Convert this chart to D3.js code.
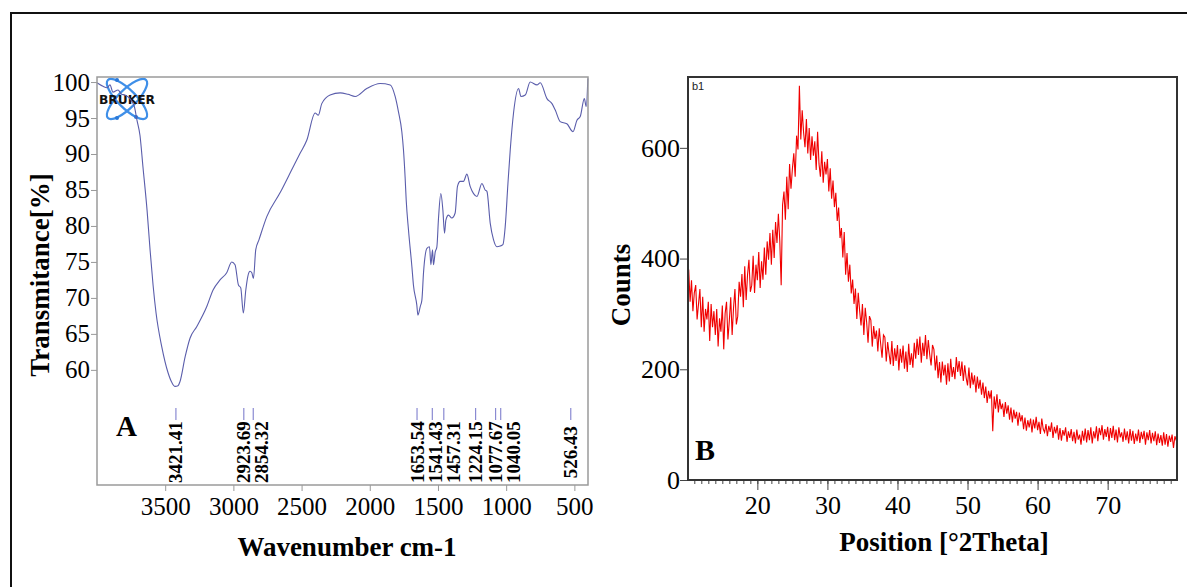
<!DOCTYPE html>
<html><head><meta charset="utf-8">
<script src="https://cdn.jsdelivr.net/npm/d3@7"></script>
<style>
html,body{margin:0;padding:0;background:#fff;}
svg{display:block;}
</style></head><body>
<svg id="chart" width="1187" height="587" font-family="Liberation Serif, Times New Roman, serif"></svg>
<script>
// ---------- Panel A: FTIR ----------
const irWavenumber = [4000,3956,3927,3905,3883,3846,3820,3795,3751,3725,3707,3685,3663,3633,3611,3589,3567,3525,3479,3450,3428,3406,3391,3354,3318,3269,3195,3149,3098,3049,3012,2988,2963,2946,2927,2909,2894,2878,2865,2853,2836,2812,2755,2658,2562,2511,2462,2401,2377,2352,2291,2217,2160,2107,2022,1924,1850,1814,1790,1765,1753,1741,1733,1716,1691,1680,1655,1647,1630,1618,1606,1581,1562,1552,1540,1533,1520,1508,1496,1479,1464,1452,1442,1423,1398,1374,1357,1337,1313,1288,1264,1239,1214,1178,1154,1141,1117,1093,1068,1044,1024,1007,987,970,946,909,892,860,824,774,750,701,664,640,604,555,510,481,457,427,413,401];
const irTransmittance = [99.9,99.4,99.2,99.6,98.6,98.9,98.3,98.2,97.5,96.5,94.7,92.6,88.2,82.2,76.7,71.8,67.9,63.2,59.6,58.2,57.7,57.8,58.4,61.8,64.4,66.0,68.8,71.1,72.5,73.5,75.0,74.6,71.8,71.4,67.9,71.1,73.0,73.7,73.5,72.7,76.7,78.1,81.3,84.6,88.2,90.1,91.9,95.7,95.4,97.0,98.2,98.5,98.3,98.0,99.1,99.8,99.6,98.0,95.9,93.1,90.6,86.8,83.6,79.4,74.3,71.8,69.0,67.6,68.8,69.7,73.5,76.9,77.1,74.6,76.7,74.6,76.4,77.1,81.1,84.5,82.2,79.0,80.8,81.5,81.1,81.8,85.5,86.2,86.2,87.2,85.5,84.5,84.1,85.9,85.0,84.8,80.4,78.1,77.1,77.2,77.4,79.9,85.9,90.6,95.7,99.1,98.0,98.2,100.0,99.6,99.9,97.7,97.0,96.1,94.5,94.2,93.1,94.7,95.2,97.7,96.6,100.5];
const irPeaks = [3421.41,2923.69,2854.32,1653.54,1541.43,1457.31,1224.15,1077.67,1040.05,526.43];
const irPeakLabels = ["3421.41","2923.69","2854.32","1653.54","1541.43","1457.31","1224.15","1077.67","1040.05","526.43"];
const irXTicks = [3500,3000,2500,2000,1500,1000,500];
const irYTicks = [60,65,70,75,80,85,90,95,100];

// ---------- Panel B: XRD (2θ from 10.2° in 0.2° steps) ----------
const xrdStart = 10.2, xrdStep = 0.2;
const xrdCounts = [
380,322,361,305,338, 352,290,318,345,276, 331,268,309,290,322, 251,318,276,305,262,
309,241,292,268,315, 236,301,322,254,288, 330,262,311,345,281, 296,358,331,372,312,
386,325,371,398,340, 352,405,338,389,361, 412,347,395,362,420, 371,431,398,446,389,
452,401,466,428,481, 432,352,497,521,470, 548,489,571,526,562, 590,548,622,597,712,
615,668,628,601,652, 590,636,578,621,586, 612,560,629,571,548, 594,537,575,552,580,
521,563,508,541,493, 519,468,492,437,455, 402,448,371,410,358, 389,337,362,318,346,
291,338,306,279,318, 262,311,285,248,296, 289,241,278,255,270, 232,274,246,221,262,
258,214,249,228,209, 251,206,238,215,244, 198,237,212,243,201, 232,195,246,208,229,
203,248,219,255,226, 259,212,248,224,262, 218,253,227,207,244, 236,198,225,184,213,
176,214,189,208,172, 211,178,219,186,204, 182,222,195,215,188, 214,179,207,185,171,
203,166,194,172,189, 158,187,165,181,154, 176,148,169,139,161, 147,162,88,151,129,
155,122,146,128,138, 114,141,120,135,109, 131,104,127,111,123, 98,122,106,117,92,
113,89,108,95,111, 86,109,93,114,90, 105,83,111,92,86, 101,79,98,87,104,
76,96,84,99,73, 94,71,90,80,95, 69,88,76,92,70, 87,66,91,73,82,
64,89,71,93,68, 90,72,95,66,88, 75,97,70,94,81, 99,73,92,78,96,
70,94,76,98,72, 91,68,95,77,86, 69,93,72,88,66, 92,71,89,65,84,
70,91,67,87,74, 89,64,86,72,90, 66,85,70,88,63, 84,67,81,62,86,
64,83,60,80,69, 82,58,79,71];
const xrdXTicks = [20,30,40,50,60,70];
const xrdYTicks = [0,200,400,600];

const SERIF = "Liberation Serif, Times New Roman, serif";
const SANS = "Liberation Sans, Arial, sans-serif";
const svg = d3.select("#chart");

// outer frame (partial, as in the figure)
svg.append("path").attr("d","M11,600 V13 H1200").attr("fill","none").attr("stroke","#111").attr("stroke-width",2);

function styleAxis(g, color, size){
  g.attr("font-family", SERIF);
  g.select(".domain").remove();
  g.selectAll("line").attr("stroke", color);
  g.selectAll("text").attr("font-size", size).attr("fill","#000").style("font-family", SERIF);
}

// ===== Panel A =====
const ax = d3.scaleLinear().domain([4000,400]).range([97,588]);
const ay = d3.scaleLinear().domain([44,100.7]).range([485,77]);
const gA = svg.append("g");

const xAxA = gA.append("g").attr("transform","translate(0,485)")
  .call(d3.axisBottom(ax).tickValues(irXTicks).tickFormat(d3.format("d")).tickSize(6).tickSizeOuter(0).tickPadding(6));
styleAxis(xAxA, "#999", 25);

const yAxA = gA.append("g").attr("transform","translate(97,0)")
  .call(d3.axisLeft(ay).tickValues(irYTicks).tickFormat(d3.format("d")).tickSize(6).tickSizeOuter(0).tickPadding(1));
styleAxis(yAxA, "#999", 25);

// BRUKER logo
const logo = gA.append("g").attr("transform","translate(127,99)");
[45,-45].forEach(a=>{
  logo.append("ellipse").attr("rx",27).attr("ry",9).attr("transform",`rotate(${a})`)
    .attr("fill","none").attr("stroke","#3f8fe8").attr("stroke-width",2.2);
});
[[-10,-19],[-10,19],[9,18]].forEach(p=>{
  logo.append("circle").attr("cx",p[0]).attr("cy",p[1]).attr("r",2).attr("fill","#2a78d8");
});
logo.append("text").attr("x",0).attr("y",4.5).attr("text-anchor","middle")
  .attr("font-size",12).attr("font-weight",900).attr("textLength",56).attr("lengthAdjust","spacingAndGlyphs")
  .style("font-family","DejaVu Sans, Arial, sans-serif").attr("fill","#111").text("BRUKER");

// spectrum
const irData = irWavenumber.map((w,i)=>({w, t: irTransmittance[i]}));
gA.append("path").datum(irData)
  .attr("d", d3.line().x(d=>ax(d.w)).y(d=>ay(d.t)).curve(d3.curveMonotoneX))
  .attr("fill","none").attr("stroke","#5a5dab").attr("stroke-width",1.1);

// frame
gA.append("rect").attr("x",97).attr("y",77).attr("width",491).attr("height",408)
  .attr("fill","none").attr("stroke","#9a9a9a").attr("stroke-width",1.5);

// peak markers & labels
gA.selectAll(".pk").data(irPeaks).join("line")
  .attr("x1",d=>ax(d)).attr("x2",d=>ax(d)).attr("y1",408).attr("y2",420)
  .attr("stroke","#8a8ad2").attr("stroke-width",1.2);
const peakX = irPeaks.map(p=>ax(p));
const order = d3.range(peakX.length).sort((a,b)=>peakX[a]-peakX[b]);
const labX = new Array(peakX.length);
let last = -1e9;
order.forEach(i=>{ const v = Math.max(peakX[i], last + 18); labX[i] = v; last = v; });
gA.selectAll(".pl").data(irPeakLabels).join("text")
  .attr("transform",(d,i)=>`translate(${labX[i]},452) rotate(-90)`)
  .attr("text-anchor","middle").attr("dominant-baseline","central")
  .attr("font-size",19).attr("font-weight","bold").attr("fill","#000").text(d=>d);

gA.append("text").attr("x",116).attr("y",436).attr("font-size",29).attr("font-weight","bold").text("A");

svg.append("text").attr("transform","translate(40,275) rotate(-90)").attr("text-anchor","middle")
  .attr("dominant-baseline","central").attr("font-size",27).attr("font-weight","bold").text("Transmitance[%]");
svg.append("text").attr("x",347).attr("y",556).attr("text-anchor","middle")
  .attr("font-size",27).attr("font-weight","bold").text("Wavenumber cm-1");

// ===== Panel B =====
const bx = d3.scaleLinear().domain([10.1,79.9]).range([688,1177]);
const by = d3.scaleLinear().domain([0,728]).range([480,77]);
const gB = svg.append("g");

const xrdData = xrdCounts.map((c,i)=>({a: xrdStart + i*xrdStep, c}));
gB.append("path").datum(xrdData)
  .attr("d", d3.line().x(d=>bx(d.a)).y(d=>by(d.c)))
  .attr("fill","none").attr("stroke","#f00000").attr("stroke-width",1.1);

const minorB = gB.append("g").attr("transform","translate(0,480)")
  .call(d3.axisBottom(bx).tickValues(d3.range(11,80)).tickSize(4).tickSizeOuter(0).tickFormat(""));
styleAxis(minorB, "#444", 26);

const xAxB = gB.append("g").attr("transform","translate(0,480)")
  .call(d3.axisBottom(bx).tickValues(xrdXTicks).tickSize(10).tickSizeOuter(0).tickPadding(6));
styleAxis(xAxB, "#444", 26);

const yAxB = gB.append("g").attr("transform","translate(688,0)")
  .call(d3.axisLeft(by).tickValues(xrdYTicks).tickSize(8).tickSizeOuter(0).tickPadding(0));
styleAxis(yAxB, "#444", 26);

gB.append("rect").attr("x",688).attr("y",77).attr("width",489).attr("height",403)
  .attr("fill","none").attr("stroke","#333").attr("stroke-width",2);

gB.append("text").attr("x",692).attr("y",90).attr("font-size",11)
  .style("font-family", SANS).attr("fill","#222").text("b1");
gB.append("text").attr("x",695).attr("y",460).attr("font-size",30).attr("font-weight","bold").text("B");

svg.append("text").attr("transform","translate(621,285) rotate(-90)").attr("text-anchor","middle")
  .attr("dominant-baseline","central").attr("font-size",27).attr("font-weight","bold").text("Counts");
svg.append("text").attr("x",944).attr("y",551).attr("text-anchor","middle")
  .attr("font-size",27).attr("font-weight","bold").text("Position [°2Theta]");
</script>
</body></html>
